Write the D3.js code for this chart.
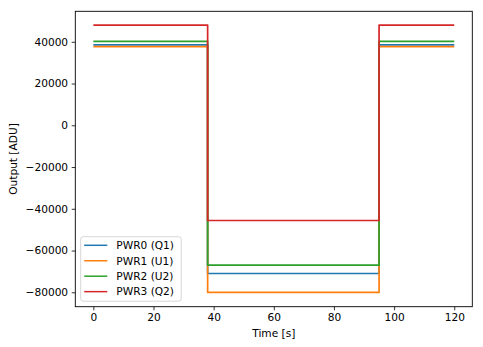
<!DOCTYPE html>
<html>
<head>
<meta charset="utf-8">
<script src="https://cdn.jsdelivr.net/npm/d3@7"></script>
<style>
  html, body { margin: 0; padding: 0; background: #fff; }
  svg { display: block; font-family: "DejaVu Sans", sans-serif; }
</style>
</head>
<body>
<svg id="chart" width="483" height="347"></svg>
<script>
// ---- data ----
const seriesNames = ["PWR0 (Q1)", "PWR1 (U1)", "PWR2 (U2)", "PWR3 (Q2)"];
const colors = ["#1f77b4", "#ff7f0e", "#2ca02c", "#d62728"];
const times = [0, 38, 38, 95, 95, 120];
const pwr0 = [38500, 38500, -71000, -71000, 38500, 38500];
const pwr1 = [37700, 37700, -80000, -80000, 37700, 37700];
const pwr2 = [40200, 40200, -67000, -67000, 40200, 40200];
const pwr3 = [48000, 48000, -45600, -45600, 48000, 48000];
const xDomain = [-6, 126];
const yDomain = [-86900, 54600];
const xTicks = [0, 20, 40, 60, 80, 100, 120];
const yTicks = [-80000, -60000, -40000, -20000, 0, 20000, 40000];
const xLabel = "Time [s]";
const yLabel = "Output [ADU]";

const allSeries = [pwr0, pwr1, pwr2, pwr3];

// ---- layout ----
const svg = d3.select("#chart");
const L = 75.3, T = 11.3, R = 472.3, B = 306.7;
const x = d3.scaleLinear().domain(xDomain).range([L, R]);
const y = d3.scaleLinear().domain(yDomain).range([B, T]);

const fontSize = 10.6;

// lines
const line = d3.line().x(d => x(d[0])).y(d => y(d[1]));
allSeries.forEach((vals, i) => {
  const pts = times.map((t, k) => [t, vals[k]]);
  svg.append("path")
    .datum(pts)
    .attr("d", line)
    .attr("fill", "none")
    .attr("stroke", colors[i])
    .attr("stroke-width", 1.7)
    .attr("stroke-linejoin", "round");
});

// axes
const fmt = d3.format("d");
const xAxis = d3.axisBottom(x).tickValues(xTicks).tickFormat(fmt).tickSize(3.6).tickPadding(3.6);
const yAxis = d3.axisLeft(y).tickValues(yTicks).tickFormat(fmt).tickSize(3.6).tickPadding(3.6);

const gx = svg.append("g").attr("transform", `translate(0,${B})`).call(xAxis);
const gy = svg.append("g").attr("transform", `translate(${L},0)`).call(yAxis);
[gx, gy].forEach(g => {
  g.select(".domain").remove();
  g.selectAll(".tick line").attr("stroke", "#000").attr("stroke-width", 0.8);
  g.selectAll(".tick text").attr("fill", "#000").style("font-size", fontSize + "px")
    .style("font-family", "DejaVu Sans");
});

// frame
svg.append("rect")
  .attr("x", L).attr("y", T).attr("width", R - L).attr("height", B - T)
  .attr("fill", "none").attr("stroke", "#000").attr("stroke-width", 0.9);

// axis labels
svg.append("text")
  .attr("x", (L + R) / 2).attr("y", 337)
  .attr("text-anchor", "middle")
  .style("font-size", fontSize + "px")
  .text(xLabel);
svg.append("text")
  .attr("transform", `translate(16.5,${(T + B) / 2}) rotate(-90)`)
  .attr("text-anchor", "middle")
  .style("font-size", fontSize + "px")
  .text(yLabel);

// legend
const lg = svg.append("g");
const lx = 80.7, ly = 236.7, lw = 100.5, lh = 64.5;
lg.append("rect")
  .attr("x", lx).attr("y", ly).attr("width", lw).attr("height", lh)
  .attr("rx", 2.5).attr("ry", 2.5)
  .attr("fill", "#fff").attr("fill-opacity", 0.8)
  .attr("stroke", "#cccccc").attr("stroke-width", 0.8);
seriesNames.forEach((name, i) => {
  const cy = 245.3 + i * 15.45;
  lg.append("line")
    .attr("x1", 84.2).attr("x2", 107.3)
    .attr("y1", cy).attr("y2", cy)
    .attr("stroke", colors[i]).attr("stroke-width", 1.5);
  lg.append("text")
    .attr("x", 116.3).attr("y", cy)
    .attr("dy", "0.36em")
    .style("font-size", fontSize + "px")
    .text(name);
});
</script>
</body>
</html>
